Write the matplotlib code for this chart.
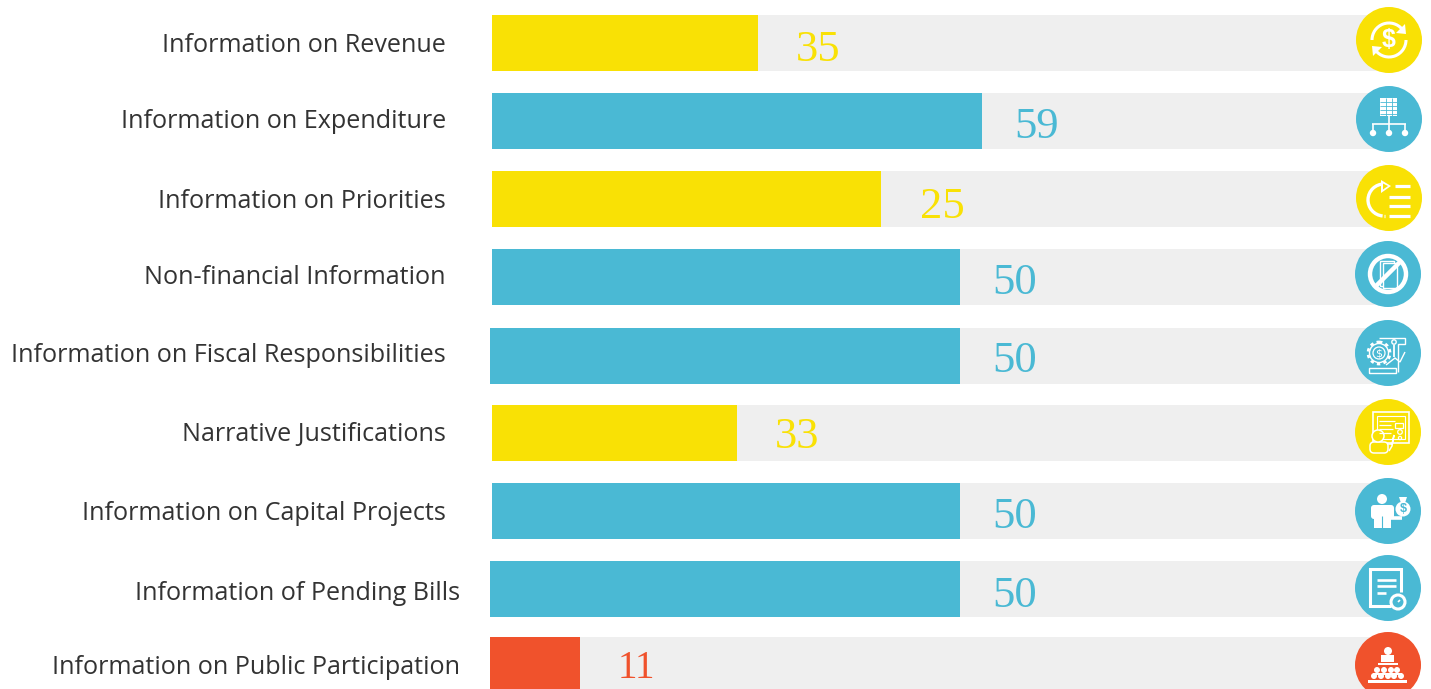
import numpy as np
import matplotlib
matplotlib.use('Agg')
import matplotlib.pyplot as plt
from matplotlib.patches import Circle, Rectangle, Polygon, Arc, FancyBboxPatch

# Data
labels = ['Information on Revenue', 'Information on Expenditure', 'Information on Priorities',
          'Non-financial Information', 'Information on Fiscal Responsibilities',
          'Narrative Justifications', 'Information on Capital Projects',
          'Information of Pending Bills', 'Information on Public Participation']
scores = [35, 59, 25, 50, 50, 33, 50, 50, 11]
# the drawn bars do not follow the printed scores in the source, so read them apart
bar_lengths = [28.4, 52.4, 41.6, 50, 50, 26.2, 50, 50, 9.4]
bar_groups = ['y', 'b', 'y', 'b', 'b', 'y', 'b', 'b', 'r']

YELLOW = '#F9E105'
BLUE = '#4AB9D4'
RED = '#F0522C'
TRACK = '#EFEFEF'
TEXT = '#333333'
colors = {'y': YELLOW, 'b': BLUE, 'r': RED}

# Layout, in pixels
W, H = 1431, 689
row_y = [43, 121, 199, 277, 356, 433, 511, 589, 665]
bar_x0 = [492, 492, 492, 492, 490, 492, 492, 490, 490]
label_right = [446, 446, 446, 446, 446, 446, 446, 460, 460]
label_y = [45, 121, 201, 277, 356, 434, 513, 593, 668]
score_x = [818, 1037, 942, 1015, 1015, 797, 1015, 1015, 636]
score_y = [50, 127, 207, 283, 361, 437, 517, 596, 668]
score_size = [32, 32, 32, 32, 32, 32, 32, 32, 28]
icon_x = [1389, 1389, 1389, 1388, 1388, 1388, 1388, 1388, 1388]
icon_y = [40, 119, 198, 274, 353, 432, 511, 588, 665]
PX = 9.36  # pixels per score unit
ZERO = 490

fig = plt.figure(figsize=(W / 100, H / 100), dpi=100)
ax = fig.add_axes([0, 0, 1, 1])
ax.set_xlim(-ZERO / PX, (W - ZERO) / PX)
ax.set_ylim(H, 0)
ax.axis('off')

px = fig.add_axes([0, 0, 1, 1])
px.set_xlim(0, W)
px.set_ylim(H, 0)
px.axis('off')
px.patch.set_alpha(0)

# Bars
for i in range(len(labels)):
    left = (bar_x0[i] - ZERO) / PX
    ax.barh(row_y[i], (1385 - ZERO) / PX - left, left=left, height=56, color=TRACK, lw=0)
    right = bar_lengths[i] + (492 - ZERO) / PX
    ax.barh(row_y[i], right - left, left=left, height=56, color=colors[bar_groups[i]], lw=0)
    px.text(label_right[i], label_y[i], labels[i], ha='right', va='center',
            fontsize=18.1, color=TEXT, family='Open Sans')
    px.text(score_x[i], score_y[i], str(scores[i]), ha='center', va='center',
            fontsize=score_size[i], color=colors[bar_groups[i]], family='Liberation Serif')


# Icons
def line(cx, cy, xs, ys, lw=2.0, col='white'):
    px.plot(np.array(xs) + cx, np.array(ys) + cy, color=col, lw=lw,
            solid_capstyle='butt', solid_joinstyle='miter')


def ring(cx, cy, x, y, r, lw=1.2, fill=None):
    px.add_patch(Circle((cx + x, cy + y), r, fc=fill if fill else 'none', ec='white', lw=lw))


def box(cx, cy, x, y, w, h, lw=0.0, fill='white'):
    px.add_patch(Rectangle((cx + x, cy + y), w, h, fc=fill, ec='white', lw=lw))


def poly(cx, cy, pts, fill='white'):
    px.add_patch(Polygon(np.array(pts) + [cx, cy], fc=fill, ec='none'))


def arc(cx, cy, x, y, r, a0, a1, lw=2.0):
    px.add_patch(Arc((cx + x, cy + y), 2 * r, 2 * r, theta1=a0, theta2=a1, color='white', lw=lw))


def icon_revenue(cx, cy, col):
    arc(cx, cy, 0, 0, 17, 180, 320, 2.2)
    arc(cx, cy, 0, 0, 17, 0, 140, 2.2)
    poly(cx, cy, [(16, -16), (17, -6), (7, -7)])
    poly(cx, cy, [(-16, 16), (-17, 6), (-7, 7)])
    px.text(cx, cy, '$', color='white', fontsize=18, fontweight='bold', ha='center', va='center',
            family='Liberation Sans')


def icon_expenditure(cx, cy, col):
    box(cx, cy, -9, -21, 17, 18)
    for yy in (-17, -13, -9, -5):
        line(cx, cy, [-9, 8], [yy, yy], 0.6, col)
    for xx in (-3.5, 2.5):
        line(cx, cy, [xx, xx], [-21, -3], 0.6, col)
    for xx in (-16, 0, 16):
        line(cx, cy, [xx, xx], [5, 11], 1.2)
        ring(cx, cy, xx, 14, 3.2, 0, 'white')
    line(cx, cy, [-17, 17], [5, 5], 1.2)
    line(cx, cy, [0, 0], [-3, 5], 1.2)


def icon_priorities(cx, cy, col):
    for yy, x0 in zip((-12.5, -1, 7.5, 18), (6, 0, 0, 0)):
        line(cx, cy, [x0, 21], [yy, yy], 2.3)
    arc(cx, cy, -5, 2, 16, 95, 270, 2.4)
    line(cx, cy, [-5, -4], [18, 18], 2.4)
    poly(cx, cy, [(-8, -18), (2, -12), (-8, -5)])
    poly(cx, cy, [(-6, -14.5), (-1, -12), (-6, -8.5)], col)


def icon_nonfin(cx, cy, col):
    box(cx, cy, -8, -13, 14, 25, 1.0, col)
    box(cx, cy, -5, -11, 14, 25, 1.0, col)
    ring(cx, cy, 0, 0, 18, 3.2)
    line(cx, cy, [-13, 13], [13, -13], 3.2)


def icon_fiscal(cx, cy, col):
    line(cx, cy, [-9, 17, 17, 10, 10], [-15, -15, -9, -9, 19], 1.0)
    line(cx, cy, [-19, 8, 8, -19, -19], [20, 20, 15, 15, 20], 1.0)
    px.add_patch(Circle((cx - 9, cy), 11, fc='none', ec='white', lw=2.0, ls=(0, (1.2, 1.2))))
    px.add_patch(Circle((cx - 9, cy), 9.5, fc=col, ec='white', lw=1.0))
    ring(cx, cy, -9, 0, 6, 0.9)
    px.text(cx - 9, cy, '$', color='white', fontsize=8, ha='center', va='center')
    ring(cx, cy, 6, -11, 2.2, 1.0)
    line(cx, cy, [6, 6], [-8, 4], 1.3)
    line(cx, cy, [-2, 7, 12, 17], [12, 5, 9, -1], 1.0)


def icon_narrative(cx, cy, col):
    box(cx, cy, -15, -20, 36, 31, 1.2, 'none')
    box(cx, cy, -11, -16, 28, 23, 0.8, 'none')
    for yy, xr in zip((-11, -7, -3, 1), (4, 0, 2, 0)):
        line(cx, cy, [-9, 3 + xr], [yy, yy], 0.9)
    box(cx, cy, 7, -9, 8, 5, 0.9, col)
    ring(cx, cy, 12, 0, 2.3, 0.9)
    ring(cx, cy, 12, 6, 1.6, 0.9)
    px.add_patch(FancyBboxPatch((cx - 18, cy + 10), 18, 11, boxstyle='round,pad=0,rounding_size=4',
                                fc=col, ec='white', lw=1.1))
    px.add_patch(Circle((cx - 10, cy + 4), 6, fc=col, ec='white', lw=1.1))
    line(cx, cy, [-1, 4, 6, 4, 1], [12, 12, 3, 14, 19], 1.1)


def icon_capital(cx, cy, col):
    ring(cx, cy, -6, -12, 5, 0, 'white')
    px.add_patch(FancyBboxPatch((cx - 17, cy - 6), 23, 14, boxstyle='round,pad=0,rounding_size=3',
                                fc='white', ec='none'))
    box(cx, cy, -14, 0, 17, 17)
    line(cx, cy, [-6, -6], [5, 17], 0.8, col)
    line(cx, cy, [-1, 14], [7, 7], 2.6)
    px.add_patch(Circle((cx + 15, cy - 2), 7.5, fc='white', ec='none'))
    poly(cx, cy, [(11, -14), (19, -14), (17, -8), (13, -8)])
    px.text(cx + 15, cy - 2, '$', color=col, fontsize=9, fontweight='bold', ha='center', va='center',
            family='Liberation Sans')


def icon_pending(cx, cy, col):
    line(cx, cy, [3, -18, -18, 13, 13], [18, 18, -19, -19, 4], 2.2)
    line(cx, cy, [-11, 8], [-8, -8], 1.9)
    line(cx, cy, [-11, 8], [-2, -2], 1.9)
    line(cx, cy, [-11, -2], [5, 5], 1.9)
    px.add_patch(Circle((cx + 10, cy + 14), 7, fc=col, ec='white', lw=2.2))
    line(cx, cy, [10, 12], [14, 12], 1.2)


def icon_participation(cx, cy, col):
    ring(cx, cy, 0, -14, 4, 0, 'white')
    box(cx, cy, -7, -10, 13, 7)
    box(cx, cy, -10, -2, 20, 2)
    for xx in (-11, -4, 3, 9):
        ring(cx, cy, xx, 5, 3, 0, 'white')
    box(cx, cy, -15, 8, 29, 1.5)
    for xx in (-14, -7, 0, 6, 13):
        ring(cx, cy, xx, 11, 3, 0, 'white')
    box(cx, cy, -20, 15, 39, 2.5)


icons = [icon_revenue, icon_expenditure, icon_priorities, icon_nonfin, icon_fiscal,
         icon_narrative, icon_capital, icon_pending, icon_participation]
for i, fn in enumerate(icons):
    col = colors[bar_groups[i]]
    px.add_patch(Circle((icon_x[i], icon_y[i]), 33, fc=col, ec='none'))
    fn(icon_x[i], icon_y[i], col)

px.set_xlim(0, W)
px.set_ylim(H, 0)
fig.savefig('out.png', dpi=100)
